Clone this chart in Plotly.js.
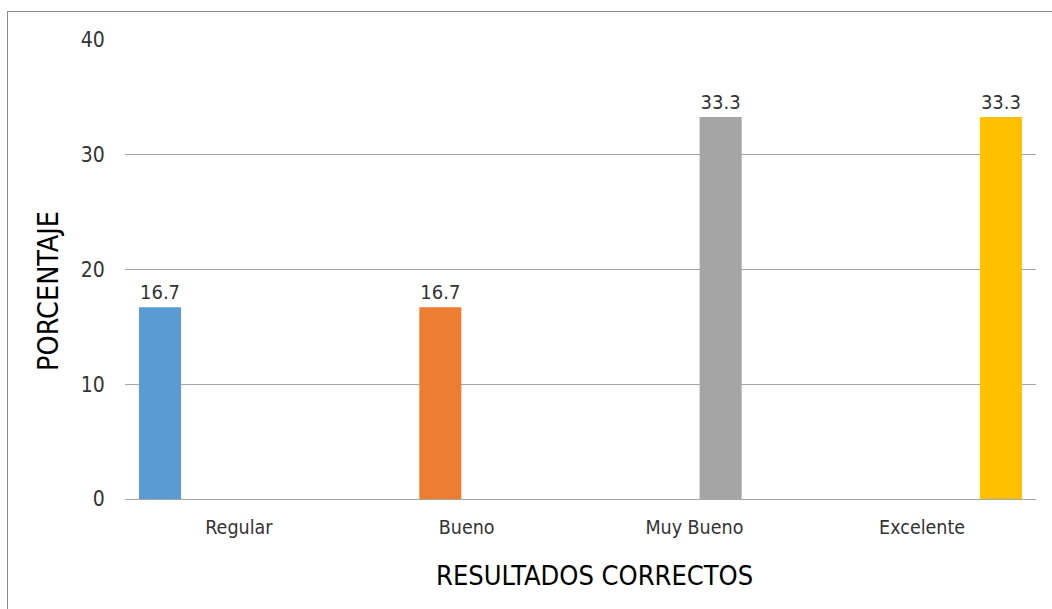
<!DOCTYPE html>
<html>
<head>
<meta charset="utf-8">
<script src="https://cdn.plot.ly/plotly-3.0.1.min.js"></script>
<style>
  html, body { margin: 0; padding: 0; background: #fff; }
  #wrap { position: relative; width: 1052px; height: 609px; overflow: hidden; }
  #chart { position: absolute; left: 0; top: 0; width: 1052px; height: 609px; }
  #frame { position: absolute; left: 7px; top: 11px; width: 1100px; height: 700px;
           border-left: 1px solid #8c8c8c; border-top: 1px solid #8c8c8c; pointer-events: none; }
</style>
</head>
<body>
<div id="wrap"><div id="chart"></div><div id="frame"></div></div>
<script>
const categories = ["Regular", "Bueno", "Muy Bueno", "Excelente"];
const seriesNames = ["Regular", "Bueno", "Muy Bueno", "Excelente"];
const regularValues   = [16.7, null, null, null];
const buenoValues     = [null, 16.7, null, null];
const muyBuenoValues  = [null, null, 33.3, null];
const excelenteValues = [null, null, null, 33.3];
const seriesValues = [regularValues, buenoValues, muyBuenoValues, excelenteValues];
const colors = ["#5B9BD5", "#ED7D31", "#A5A5A5", "#FFC000"];
const yTicks = [0, 10, 20, 30, 40];
const xTitle = "RESULTADOS CORRECTOS";
const yTitle = "PORCENTAJE";

const FONT = '"DejaVu Sans Condensed", "Liberation Sans Narrow", Arial, sans-serif';

const traces = seriesValues.map((vals, i) => ({
  type: 'bar',
  name: seriesNames[i],
  x: categories,
  y: vals,
  marker: { color: colors[i] },
  text: vals.map(v => v === null ? '' : v.toFixed(1)),
  textposition: 'outside',
  textfont: { family: FONT, size: 20, color: '#333333' },
  cliponaxis: false,
  hoverinfo: 'skip'
}));

const layout = {
  width: 1052, height: 609,
  margin: { l: 125, r: 16, t: 40, b: 110 },
  paper_bgcolor: '#ffffff',
  plot_bgcolor: '#ffffff',
  showlegend: false,
  barmode: 'group',
  bargap: 0.077,
  bargroupgap: 0.2,
  font: { family: FONT, color: '#333333' },
  xaxis: {
    type: 'category',
    showgrid: false,
    showline: false,
    zeroline: false,
    ticks: 'outside', ticklen: 11, tickcolor: 'rgba(0,0,0,0)',
    tickfont: { family: FONT, size: 19.5, color: '#333333' }
  },
  yaxis: {
    range: [0, 40],
    tickvals: yTicks,
    showgrid: true, gridcolor: '#a6a6a6', gridwidth: 1,
    zeroline: true, zerolinecolor: '#a6a6a6', zerolinewidth: 1,
    showline: false,
    ticks: 'outside', ticklen: 15, tickcolor: 'rgba(0,0,0,0)',
    tickfont: { family: FONT, size: 21, color: '#333333' }
  },
  annotations: [
    { text: xTitle, xref: 'paper', yref: 'paper', xanchor: 'center', yanchor: 'middle',
      x: (594 - 125) / (1036 - 125), y: -(575 - 499) / (499 - 40), showarrow: false,
      font: { family: FONT, size: 27, color: '#000000' } },
    { text: yTitle, xref: 'paper', yref: 'paper', xanchor: 'center', yanchor: 'middle',
      x: -(125 - 48) / (1036 - 125), y: (499 - 291) / (499 - 40), showarrow: false, textangle: -90,
      font: { family: FONT, size: 28.5, color: '#000000' } }
  ]
};

Plotly.newPlot('chart', traces, layout, { displayModeBar: false, staticPlot: true });
</script>
</body>
</html>
